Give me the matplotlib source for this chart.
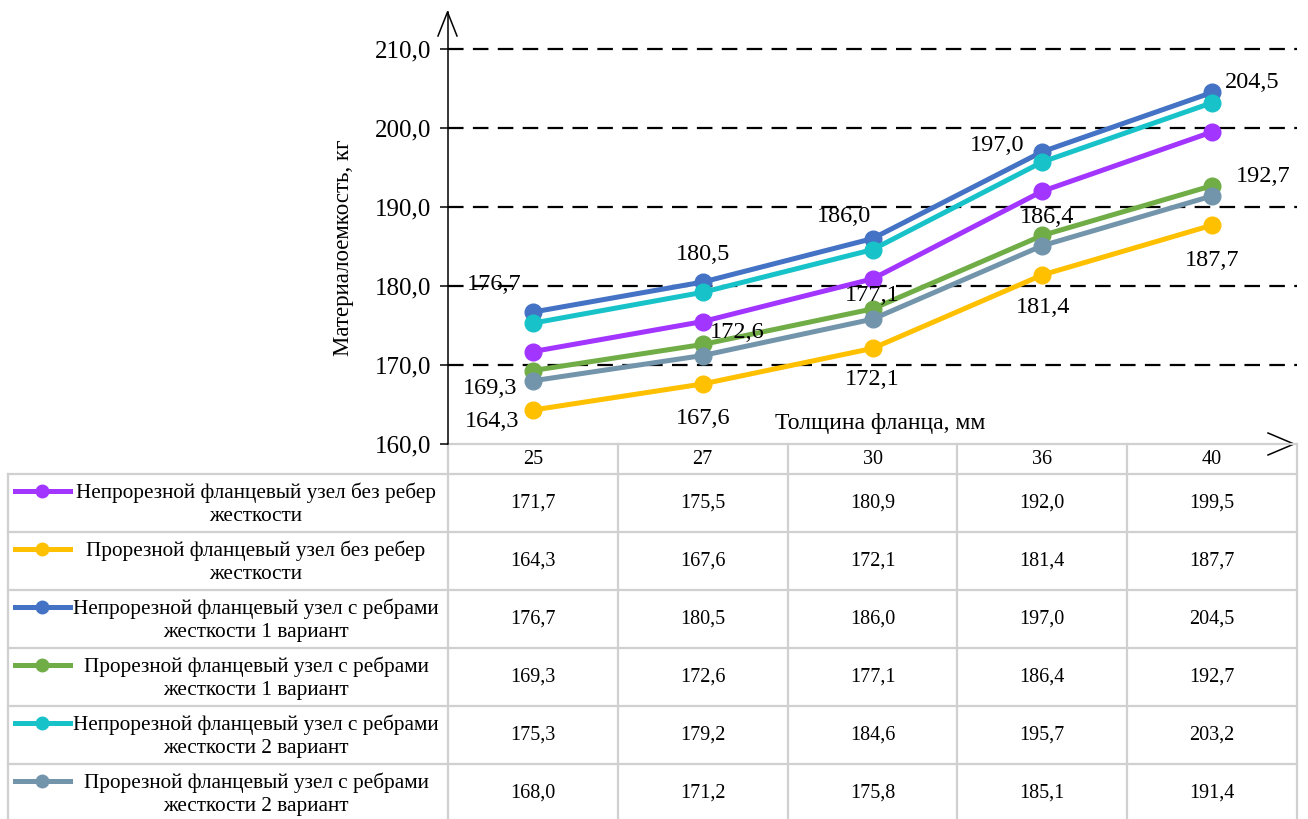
import matplotlib.pyplot as plt
from matplotlib.lines import Line2D

plt.rcParams['font.family'] = ['Liberation Serif', 'DejaVu Serif']

# thickness of the flange, mm
categories = ['25', '27', '30', '36', '40']

series_names = [
    "Непрорезной фланцевый узел без ребер\nжесткости",
    "Прорезной фланцевый узел без ребер\nжесткости",
    "Непрорезной фланцевый узел с ребрами\nжесткости 1 вариант",
    "Прорезной фланцевый узел с ребрами\nжесткости 1 вариант",
    "Непрорезной фланцевый узел с ребрами\nжесткости 2 вариант",
    "Прорезной фланцевый узел с ребрами\nжесткости 2 вариант",
]

solid_no_ribs = [171.7, 175.5, 180.9, 192.0, 199.5]
slot_no_ribs = [164.3, 167.6, 172.1, 181.4, 187.7]
solid_ribs_v1 = [176.7, 180.5, 186.0, 197.0, 204.5]
slot_ribs_v1 = [169.3, 172.6, 177.1, 186.4, 192.7]
solid_ribs_v2 = [175.3, 179.2, 184.6, 195.7, 203.2]
slot_ribs_v2 = [168.0, 171.2, 175.8, 185.1, 191.4]

y_ticks = [160, 170, 180, 190, 200, 210]

series = [solid_no_ribs, slot_no_ribs, solid_ribs_v1, slot_ribs_v1, solid_ribs_v2, slot_ribs_v2]
colors = ['#A235FF', '#FFC000', '#4472C4', '#70AD47', '#17C3C9', '#7395AB']

# data label offsets in pixels (dx, dy up) for the labelled series
label_offsets = {
    2: [(-39, 28), (0, 28), (-29, 22), (-45, 6), (40, 10)],
    3: [(-43, -18), (35, 12), (0, 13), (5, 18), (51, 9)],
    1: [(-41, -11), (0, -35), (0, -31), (1, -33), (0, -35)],
}

W, H = 1308, 819
fig = plt.figure(figsize=(W / 100, H / 100), dpi=100)

# overlay axes in pixel coordinates for the table and decorations
tab = fig.add_axes([0, 0, 1, 1])
tab.set_xlim(0, W)
tab.set_ylim(H, 0)
tab.axis('off')

ax_left, ax_right, ax_bottom, ax_top = 448, 1297, 444, 12
ax = fig.add_axes([ax_left / W, (H - ax_bottom) / H,
                   (ax_right - ax_left) / W, (ax_bottom - ax_top) / H])
ax.set_xlim(-0.5, len(categories) - 0.5)
ax.set_ylim(160, 160 + (ax_bottom - ax_top) / 7.9)
ax.patch.set_alpha(0)
for s in ['top', 'right', 'bottom']:
    ax.spines[s].set_visible(False)
ax.spines['left'].set_color('black')
ax.spines['left'].set_linewidth(1.1)
ax.set_xticks([])
ax.set_yticks(y_ticks)
ax.set_yticklabels([f"{v:.1f}".replace('.', ',') for v in y_ticks], fontsize=18)
ax.tick_params(axis='y', length=6, width=1.1, color='black', pad=6)

for v in y_ticks[1:]:
    ax.axhline(v, color='black', lw=1.6, linestyle=(0, (7, 4.2)), zorder=1)

x = list(range(len(categories)))
for vals, col in zip(series, colors):
    ax.plot(x, vals, color=col, lw=3.6, marker='o', markersize=12, zorder=3,
            solid_capstyle='round')

for idx, offs in label_offsets.items():
    for xi, v, (dx, dy) in zip(x, series[idx], offs):
        ax.annotate(f"{v:.1f}".replace('.', ','), (xi, v), xytext=(dx, dy),
                    textcoords='offset pixels', ha='center', va='center',
                    fontsize=17.5, zorder=5)

# axis arrows
tab.plot([438, 447.5, 457], [36, 12, 36], color='black', lw=1.1)
tab.plot([1268, 1294, 1268], [433, 444, 455], color='black', lw=1.1)

# axis titles
tab.text(343, 248, "Материалоемкость, кг", rotation=90, ha='center', va='center', fontsize=16.5)
tab.text(880, 424, "Толщина фланца, мм", ha='center', va='center', fontsize=17)

# data table
grid = '#D0D0D0'
row_top, row_h, header_top = 474, 58, 444
col_w = (ax_right - ax_left) / len(categories)
tab.plot([ax_left, ax_right], [header_top, header_top], color=grid, lw=1.6)
for k in range(len(categories) + 1):
    xx = ax_left + k * col_w
    tab.plot([xx, xx], [header_top, H + 5], color=grid, lw=1.6)
tab.plot([8, 8], [row_top, H + 5], color=grid, lw=1.6)
for r in range(len(series) + 1):
    yy = row_top + r * row_h
    tab.plot([8, ax_right], [yy, yy], color=grid, lw=1.6)

for k, c in enumerate(categories):
    tab.text(ax_left + (k + 0.5) * col_w, 459, c, ha='center', va='center', fontsize=14.5)

for r, (name, vals, col) in enumerate(zip(series_names, series, colors)):
    top = row_top + r * row_h
    tab.add_line(Line2D([15, 70], [top + 17, top + 17], color=col, lw=3.6))
    tab.plot([42], [top + 17], marker='o', color=col, markersize=9)
    tab.text(256, top + 30, name, ha='center', va='center', multialignment='center',
             fontsize=15.3, linespacing=1.32)
    for k, v in enumerate(vals):
        tab.text(ax_left + (k + 0.5) * col_w, top + 29, f"{v:.1f}".replace('.', ','),
                 ha='center', va='center', fontsize=14.5)

fig.savefig('out.png', dpi=100)
